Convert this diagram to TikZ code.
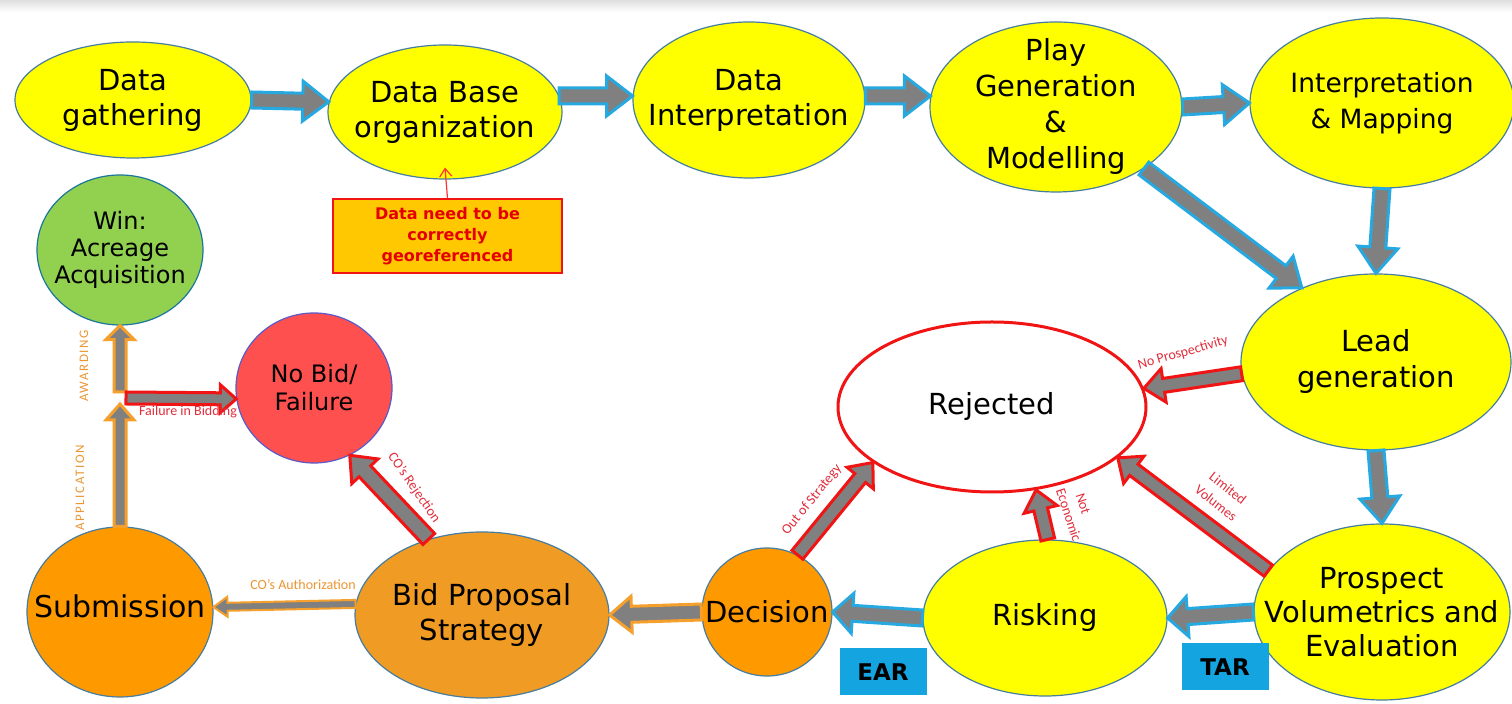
\documentclass[tikz,border=0pt]{standalone}
\usepackage{fontspec}
\setmainfont{DejaVu Sans}
\newfontfamily\lblfont{Carlito}
\newfontfamily\capsfont{Carlito}[LetterSpace=12]
\usetikzlibrary{shapes.geometric,calc,arrows.meta}

\definecolor{flowblue}{RGB}{38,168,224}
\definecolor{arrgray}{RGB}{128,128,128}
\definecolor{rejred}{RGB}{240,20,20}
\definecolor{bidorange}{RGB}{245,160,45}
\definecolor{ylw}{RGB}{255,255,0}
\definecolor{nodeedge}{RGB}{70,125,160}
\definecolor{wingreen}{RGB}{146,208,80}
\definecolor{nobidred}{RGB}{255,80,80}
\definecolor{nobidedge}{RGB}{90,90,200}
\definecolor{decorange}{RGB}{255,153,0}
\definecolor{bidfill}{RGB}{240,155,35}
\definecolor{labred}{RGB}{225,45,60}
\definecolor{laborange}{RGB}{235,150,50}
\definecolor{boxgold}{RGB}{255,200,0}
\definecolor{tagblue}{RGB}{20,165,225}

% fat outlined arrow: #1 style, #2 from, #3 to, #4 half shaft, #5 half head, #6 head length
\newcommand\fatarrow[6]{%
  \coordinate (faB) at ($(#3)!#6!(#2)$);
  \draw[#1] ($(#2)!#4!90:(#3)$) -- ($(faB)!#4!-90:(#2)$) -- ($(faB)!#5!-90:(#2)$) -- (#3)
    -- ($(faB)!#5!90:(#2)$) -- ($(faB)!#4!90:(#2)$) -- ($(#2)!#4!-90:(#3)$) -- cycle;}

\begin{document}
\begin{tikzpicture}[x=0.5pt,y=-0.5pt,
  bub/.style={ellipse, inner sep=0pt, line width=0.6pt, draw=nodeedge},
  ylwnode/.style={bub, fill=ylw},
  txt/.style={inner sep=0pt, align=center, font=\fontsize{14.5}{17.5}\selectfont},
  lbl/.style={inner sep=0pt, font=\lblfont\fontsize{7}{8}\selectfont},
  flowarr/.style={fill=arrgray, draw=flowblue, line width=1.5pt},
  rejarr/.style={fill=arrgray, draw=rejred, line width=1.5pt},
  bidarr/.style={fill=arrgray, draw=bidorange, line width=1.5pt},
  thinbid/.style={fill=arrgray, draw=bidorange, line width=1pt},
  tag/.style={fill=tagblue, inner sep=0pt, minimum width=43.5pt, minimum height=23.5pt, font=\bfseries\fontsize{11.5}{13}\selectfont}
]
\useasboundingbox (0,0) rectangle (1512,704);
\fill[white] (0,0) rectangle (1512,704);
\shade[top color=gray!25, bottom color=white] (0,0) rectangle (1512,12);

% ---- nodes ----
\node[ylwnode, minimum width=118pt, minimum height=58pt] (dg) at (133,100) {};
\node[txt] (dgt) at (dg) {Data\\gathering};
\node[ylwnode, minimum width=117pt, minimum height=67pt] (db) at (445,112) {};
\node[txt] (dbt) at (db) {Data Base\\organization};
\node[ylwnode, minimum width=116pt, minimum height=78pt] (di) at (749,100) {};
\node[txt] (dit) at (di) {Data\\Interpretation};
\node[ylwnode, minimum width=126pt, minimum height=85pt] (pg) at (1056,107) {};
\node[txt, font=\fontsize{14.5}{18}\selectfont] (pgt) at (pg) {Play\\Generation\\\&\\Modelling};
\node[ylwnode, minimum width=132pt, minimum height=85pt] (im) at (1382,103) {};
\node[txt, font=\fontsize{13.25}{18}\selectfont] (imt) at (im) {Interpretation\\\& Mapping};
\node[ylwnode, minimum width=135pt, minimum height=88pt] (lg) at (1376,362) {};
\node[txt, font=\fontsize{14.5}{18}\selectfont] (lgt) at (lg) {Lead\\generation};
\node[ylwnode, minimum width=128pt, minimum height=88pt] (pv) at (1382,612) {};
\node[txt, font=\fontsize{14.5}{17}\selectfont] (pvt) at (pv) {Prospect\\Volumetrics and\\Evaluation};
\node[ylwnode, minimum width=122pt, minimum height=78pt] (rk) at (1045,618) {};
\node[txt] (rkt) at (rk) {Risking};
\node[bub, fill=decorange, minimum width=65pt, minimum height=64pt] (dc) at (767,612) {};
\node[txt] (dct) at (dc) {Decision};
\node[bub, fill=bidfill, minimum width=127pt, minimum height=83pt] (bp) at (482,615) {};
\node[txt] (bpt) at (bp) {Bid Proposal\\Strategy};
\node[bub, fill=decorange, minimum width=93pt, minimum height=85pt] (sb) at (120,612) {};
\node[txt, font=\fontsize{15}{18}\selectfont] (sbt) at ([yshift=3pt]sb.center) {Submission};
\node[bub, fill=wingreen, draw=flowblue!70!black, minimum width=83pt, minimum height=75pt] (win) at (120,250) {};
\node[txt, font=\fontsize{12}{13.5}\selectfont] (wint) at (win) {Win:\\Acreage\\Acquisition};
\node[bub, fill=nobidred, draw=nobidedge, minimum width=78pt, minimum height=75pt] (nb) at (314,388) {};
\node[txt, font=\fontsize{12}{14}\selectfont] (nbt) at (nb) {No Bid/\\Failure};
\node[ellipse, draw=rejred, line width=1.5pt, fill=white, minimum width=154pt, minimum height=85pt] (rj) at (992,407) {};
\node[txt] (rjt) at (rj) {Rejected};

\node[draw=rejred, line width=0.8pt, fill=boxgold, minimum width=114.5pt, minimum height=37pt, inner sep=0pt, align=center, text=red!90!black, font=\bfseries\fontsize{8}{10.5}\selectfont] (geo) at (447.5,236) {Data need to be\\correctly\\georeferenced};
\node[tag] (ear) at (883,672) {EAR};
\node[tag] (tar) at (1225,667) {TAR};

\coordinate (apptip) at (120,404);
\coordinate (awtail) at (120,392);
\coordinate (fbtail) at (126,398);

% ---- arrows ----
\fatarrow{flowarr}{dg.east}{db.175}{4pt}{10pt}{13pt}
\fatarrow{flowarr}{db.8}{di.178}{4pt}{10pt}{13pt}
\fatarrow{flowarr}{di.2}{pg.175}{4pt}{10pt}{13pt}
\fatarrow{flowarr}{pg.east}{im.west}{4pt}{10pt}{13pt}
\fatarrow{flowarr}{pg.-35}{lg.135}{4pt}{10pt}{13pt}
\fatarrow{flowarr}{im.south}{lg.north}{4pt}{10pt}{13pt}
\fatarrow{flowarr}{lg.south}{pv.north}{4pt}{10pt}{13pt}
\fatarrow{flowarr}{pv.west}{rk.east}{4pt}{10pt}{10pt}
\fatarrow{flowarr}{rk.west}{dc.east}{4pt}{10pt}{10pt}
\fatarrow{rejarr}{lg.185}{rj.7}{3.5pt}{8.5pt}{10pt}
\fatarrow{rejarr}{pv.160}{rj.-22}{3.5pt}{8.5pt}{10pt}
\fatarrow{rejarr}{rk.88}{rj.-62}{3.5pt}{8.5pt}{10pt}
\fatarrow{rejarr}{dc.62}{rj.-155}{3.5pt}{8.5pt}{10pt}
\fatarrow{bidarr}{dc.west}{bp.east}{4pt}{9pt}{11pt}
\fatarrow{rejarr}{bp.125}{nb.-62}{4pt}{9pt}{11pt}
\fatarrow{thinbid}{bp.175}{sb.3}{2pt}{5pt}{7pt}
\fatarrow{bidarr}{sb.north}{apptip}{3pt}{7pt}{8pt}
\fatarrow{bidarr}{awtail}{win.south}{3pt}{7pt}{7pt}
\fatarrow{rejarr}{fbtail}{nb.188}{3pt}{7pt}{8pt}

\draw[red!80!white, line width=0.6pt, -{Straight Barb[length=4pt,width=6pt]}] (geo.north) -- ([yshift=6pt]db.south);

% ---- labels ----
\node[lbl, text=labred, rotate=16] (lnp) at (1183,353) {No Prospectivity};
\node[lbl, text=labred, rotate=-38] (llv1) at (1228,488) {Limited};
\node[lbl, text=labred, rotate=-38] (llv2) at (1216,503) {Volumes};
\node[lbl, text=labred, rotate=-72] (lne1) at (1083,504) {Not};
\node[lbl, text=labred, rotate=-72] (lne2) at (1069,515) {Economic};
\node[lbl, text=labred, rotate=51] (los) at (812,500) {Out of Strategy};
\node[lbl, text=labred, rotate=-55] (lcr) at (414,488) {CO’s Rejection};
\node[lbl, text=laborange] (lca) at (303,585) {CO’s Authorization};
\node[lbl, text=labred] (lfb) at (188,412) {Failure in Bidding};
\node[lbl, text=laborange, rotate=90, font=\capsfont\fontsize{6.5}{8}\selectfont] (law) at (84,366) {AWARDING};
\node[lbl, text=laborange, rotate=90, font=\capsfont\fontsize{6.5}{8}\selectfont] (lap) at (80,488) {APPLICATION};
\end{tikzpicture}
\end{document}
